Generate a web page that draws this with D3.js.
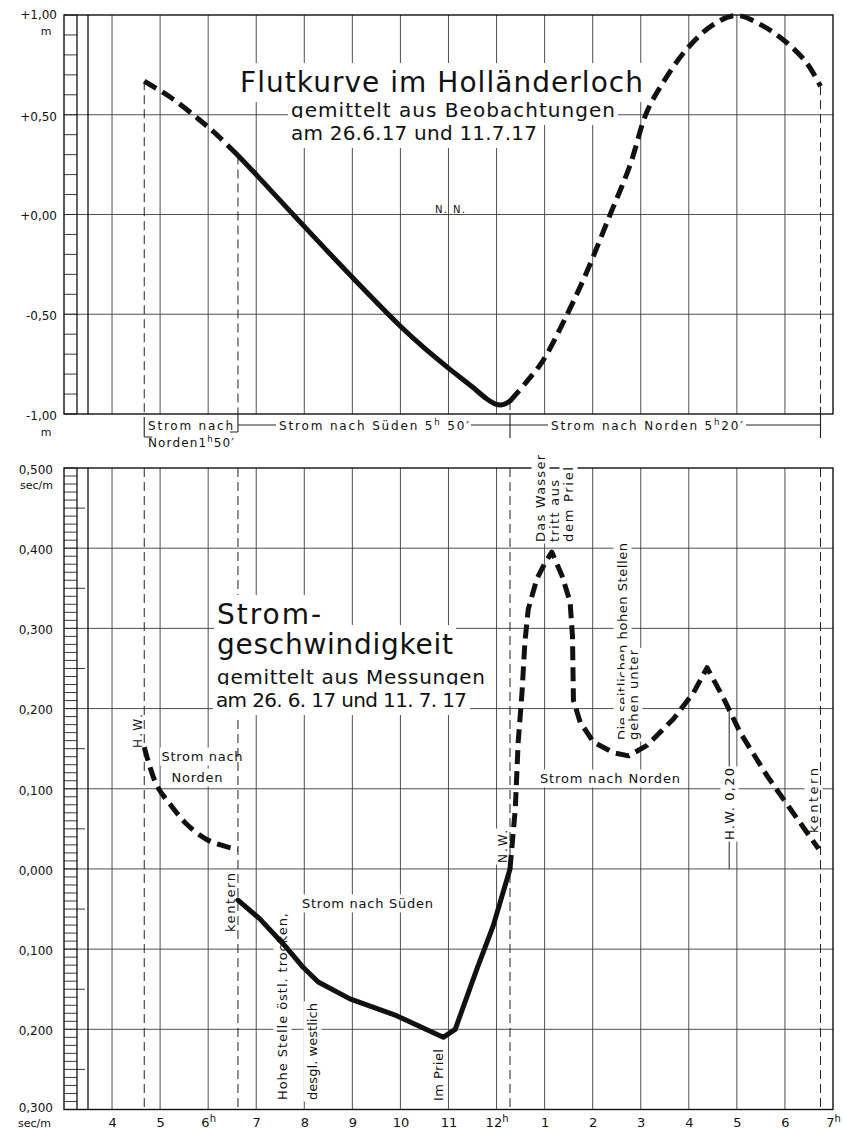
<!DOCTYPE html>
<html><head><meta charset="utf-8">
<script src="https://cdn.jsdelivr.net/npm/d3@7"></script>
<style>
body{margin:0;background:#fff}
svg{display:block}
text{font-family:"DejaVu Sans",sans-serif;fill:#111}
</style>
</head><body>
<svg id="c" width="843" height="1130"></svg>
<script>
// ---------------- data ----------------
const hourTicks = [4,5,6,7,8,9,10,11,12,13,14,15,16,17,18,19];
const hourTickLabels = ["4","5","6h","7","8","9","10","11","12h","1","2","3","4","5","6","7h"];
const levelTicks = [1, 0.5, 0, -0.5, -1];
const levelTickLabels = ["+1,00","+0,50","+0,00","-0,50","-1,00"];
const speedTicks = [0.5,0.4,0.3,0.2,0.1,0,-0.1,-0.2,-0.3];
const speedTickLabels = ["0,500","0,400","0,300","0,200","0,100","0,000","0,100","0,200","0,300"];
const eventHours = [4.67, 6.62, 12.28, 18.74];   // H.W., kentern, N.W., kentern

// Flutkurve (m über/unter N.N.)
const tideHeadHours  = [4.67, 5.2, 5.81, 6.2, 6.62];
const tideHeadValues = [0.668, 0.59, 0.476, 0.395, 0.296];
const tideEbbHours   = [6.62, 7, 8, 9, 10, 10.5, 11, 11.5, 11.8, 12.0, 12.15, 12.28];
const tideEbbValues  = [0.296, 0.2, -0.06, -0.315, -0.56, -0.67, -0.77, -0.865, -0.925, -0.952, -0.952, -0.935];
const tideFloodHours  = [12.28, 12.62, 12.96, 13.45, 13.87, 14.35, 14.77, 15.12, 15.46, 15.95, 16.51, 17.0, 17.55, 18.04, 18.45, 18.74];
const tideFloodValues = [-0.935, -0.84, -0.735, -0.51, -0.292, -0.008, 0.242, 0.51, 0.66, 0.827, 0.952, 0.997, 0.944, 0.861, 0.76, 0.643];

// Stromgeschwindigkeit (+ nach Norden, - nach Süden)
const northAHours  = [4.67, 4.78, 4.95, 5.23, 5.55, 5.96, 6.31, 6.62];
const northAValues = [0.152, 0.129, 0.102, 0.079, 0.056, 0.037, 0.029, 0.024];
const southHours  = [6.62, 7.07, 7.63, 7.98, 8.29, 8.95, 9.92, 10.89, 11.14, 11.59, 11.93, 12.28];
const southValues = [-0.039, -0.062, -0.098, -0.123, -0.141, -0.162, -0.183, -0.21, -0.2, -0.125, -0.071, 0.0];
const northBHours  = [12.28, 12.39, 12.45, 12.53, 12.59, 12.66, 12.84, 13.01, 13.15, 13.36, 13.53, 13.58, 13.6, 13.74, 14.02, 14.43, 14.75, 15.13, 15.68, 16.1, 16.38, 16.73, 17.07, 17.63, 18.11, 18.7];
const northBValues = [0.0, 0.075, 0.158, 0.22, 0.283, 0.324, 0.362, 0.382, 0.395, 0.366, 0.333, 0.29, 0.21, 0.183, 0.158, 0.145, 0.141, 0.154, 0.187, 0.22, 0.251, 0.212, 0.17, 0.116, 0.075, 0.025];
const hw2Hour = 16.84, hw2Value = 0.197;

// ---------------- setup ----------------
const svg = d3.select('#c');
const x = d3.scaleLinear().domain([3.5, 19]).range([88, 833]);
const yTop = d3.scaleLinear().domain([-1, 1]).range([414, 15]);
const yBot = d3.scaleLinear().domain([-0.3, 0.5]).range([1109.5, 468]);
const frameL = 64, frameM = 77;

const gGrid = svg.append('g');
const gNotes = svg.append('g');
const gDash = svg.append('g');
const gTitles = svg.append('g');
const gCurves = svg.append('g');
const gAxes = svg.append('g');

const GRID = '#3c3c3c';

function line(g, x1, y1, x2, y2, w, col, dash) {
  const l = g.append('line').attr('x1', x1).attr('y1', y1).attr('x2', x2).attr('y2', y2)
    .attr('stroke', col || GRID).attr('stroke-width', w || 1);
  if (dash) l.attr('stroke-dasharray', dash);
  return l;
}

function note(layer, px, py, parts, o) {
  o = Object.assign({size: 12, anchor: 'start', rot: false, bg: true, pad: 1.5, len: null}, o || {});
  const g = layer.append('g').attr('transform', `translate(${px},${py})` + (o.rot ? ' rotate(-90)' : ''));
  const rect = o.bg ? g.append('rect').attr('fill', '#fff') : null;
  const t = g.append('text').attr('font-size', o.size).attr('text-anchor', o.anchor);
  let shift = 0;
  (Array.isArray(parts) ? parts : [[parts, false]]).forEach(([s, sup]) => {
    const want = sup ? -o.size * 0.42 : 0;
    const ts = t.append('tspan').text(s);
    if (want - shift !== 0) ts.attr('dy', want - shift);
    shift = want;
    if (sup) ts.attr('font-size', o.size * 0.72);
  });
  if (o.len) t.attr('textLength', o.len).attr('lengthAdjust', 'spacing');
  if (rect) {
    const b = t.node().getBBox();
    rect.attr('x', b.x - o.pad).attr('y', b.y - o.pad).attr('width', b.width + 2 * o.pad).attr('height', b.height + 2 * o.pad);
  }
  return g;
}

// ---------------- grids & frames ----------------
function panel(y, yTicksMajor, hatchTicks, halfTicks) {
  const [y0, y1] = y.range().slice().sort((a, b) => a - b);
  hourTicks.filter(h => h < 19).forEach(h => line(gGrid, x(h), y0, x(h), y1, 0.9));
  yTicksMajor.forEach(v => line(gGrid, frameL, y(v), x(19), y(v), 0.9));
  hatchTicks.forEach(v => line(gGrid, frameL, y(v), frameM, y(v), 0.9, '#222'));
  halfTicks.forEach(v => line(gGrid, frameM, y(v), frameM + 8, y(v), 0.9, '#222'));
  line(gGrid, frameM, y0, frameM, y1, 1.3, '#111');
  line(gGrid, x(3.5), y0, x(3.5), y1, 1.3, '#111');
  gGrid.append('rect').attr('x', frameL).attr('y', y0).attr('width', x(19) - frameL).attr('height', y1 - y0)
    .attr('fill', 'none').attr('stroke', '#111').attr('stroke-width', 1.4);
}
panel(yTop, [0.5, 0, -0.5], yTop.ticks(20), []);
panel(yBot, [0.4, 0.3, 0.2, 0.1, 0, -0.1, -0.2], yBot.ticks(80), [0.45, 0.35, 0.25, 0.15, 0.05, -0.05, -0.15, -0.25]);

// H.W. 0,20 marker line
line(gGrid, x(hw2Hour), yBot(0), x(hw2Hour), yBot(hw2Value), 1, '#222');

// ---------------- y axes ----------------
const axTop = gAxes.append('g').attr('transform', 'translate(62,0)')
  .call(d3.axisLeft(yTop).tickValues(levelTicks).tickSize(0).tickPadding(5).tickFormat((d, i) => levelTickLabels[i]));
axTop.select('.domain').remove();
axTop.selectAll('text').attr('font-size', 12).attr('font-family', '"DejaVu Sans",sans-serif').attr('fill', '#111')
  .attr('dy', (d, i) => i === 0 ? '0.3em' : '0.45em');
gAxes.append('text').attr('x', 46).attr('y', 35).attr('font-size', 11).attr('text-anchor', 'middle').text('m');
gAxes.append('text').attr('x', 46).attr('y', 436).attr('font-size', 11).attr('text-anchor', 'middle').text('m');

const axBot = gAxes.append('g').attr('transform', 'translate(58,0)')
  .call(d3.axisLeft(yBot).tickValues(speedTicks).tickSize(0).tickPadding(5).tickFormat((d, i) => speedTickLabels[i]));
axBot.select('.domain').remove();
axBot.selectAll('text').attr('font-size', 12).attr('font-family', '"DejaVu Sans",sans-serif').attr('fill', '#111')
  .attr('dy', (d, i) => i === speedTicks.length - 1 ? '0.15em' : '0.45em');
gAxes.append('text').attr('x', 53).attr('y', 489).attr('font-size', 11).attr('text-anchor', 'end').text('sec/m');
gAxes.append('text').attr('x', 51).attr('y', 1127).attr('font-size', 11).attr('text-anchor', 'end').text('sec/m');

// ---------------- x axis ----------------
const axX = gAxes.append('g').attr('transform', `translate(0,${yBot(-0.3)})`)
  .call(d3.axisBottom(x).tickValues(hourTicks).tickSize(0).tickPadding(8).tickFormat(() => ''));
axX.select('.domain').remove();
axX.selectAll('.tick text').each(function (d, i) {
  const lab = hourTickLabels[i];
  const t = d3.select(this).attr('font-size', 13).attr('font-family', '"DejaVu Sans",sans-serif').attr('fill', '#111');
  if (lab.endsWith('h')) {
    t.append('tspan').text(lab.slice(0, -1));
    t.append('tspan').text('h').attr('font-size', 10).attr('dy', '-0.45em');
  } else {
    t.text(lab);
  }
});

// ---------------- annotations ----------------
note(gNotes, 450, 213, 'N. N.', {size: 10, anchor: 'middle', bg: false, len: 30});

// brackets between charts
const bracket = [[417, 437], [414, 432], [414, 438], [407, 438]];
eventHours.forEach((h, i) => line(gNotes, x(h), bracket[i][0], x(h), bracket[i][1], 1.1, '#222'));
line(gNotes, x(eventHours[0]), 437, x(eventHours[0]) + 8, 437, 1, '#222');
line(gNotes, x(eventHours[1]) - 8, 432, x(eventHours[1]), 432, 1, '#222');
line(gNotes, x(eventHours[1]), 425, 276, 425, 1, '#222');
line(gNotes, 471, 425, x(eventHours[2]), 425, 1, '#222');
line(gNotes, x(eventHours[2]), 425, 548, 425, 1, '#222');
line(gNotes, 746, 425, x(eventHours[3]), 425, 1, '#222');
note(gNotes, 148, 430, 'Strom nach', {size: 12, len: 85, bg: false});
note(gNotes, 148, 447, [['Norden1'], ['h', true], ['50\u2032']], {size: 12, len: 86, bg: false});
note(gNotes, 279, 430, [['Strom nach S\u00fcden  5'], ['h', true], [' 50\u2032']], {size: 12, len: 190, bg: false});
note(gNotes, 551, 430, [['Strom nach Norden 5'], ['h', true], ['20\u2032']], {size: 12, len: 192, bg: false});

// bottom chart horizontal notes
note(gNotes, 202, 761, 'Strom nach', {size: 13, anchor: 'middle', len: 81});
note(gNotes, 197, 782, 'Norden', {size: 13, anchor: 'middle', len: 51});
note(gNotes, 302, 908, 'Strom nach S\u00fcden', {size: 13, len: 131});
note(gNotes, 540, 783, 'Strom nach Norden', {size: 13, len: 140});

// bottom chart rotated notes
note(gNotes, 142, 748, 'H.W.', {size: 12, rot: true, len: 34});
note(gNotes, 235, 932, 'kentern', {size: 13, rot: true, len: 59});
note(gNotes, 287, 1100, 'Hohe Stelle \u00f6stl. trocken,', {size: 13, rot: true, len: 187});
note(gNotes, 317, 1100, 'desgl. westlich', {size: 13, rot: true, len: 97});
note(gNotes, 443, 1101, 'Im Priel', {size: 13, rot: true, len: 52});
note(gNotes, 507, 863, 'N.W.', {size: 12, rot: true, len: 33});
note(gNotes, 545, 542, 'Das Wasser', {size: 13, rot: true, len: 87});
note(gNotes, 559, 542, 'tritt aus', {size: 13, rot: true, len: 62});
note(gNotes, 573, 542, 'dem Priel', {size: 13, rot: true, len: 75});
note(gNotes, 627, 740, 'Die seitlichen hohen Stellen', {size: 13, rot: true, len: 197});
note(gNotes, 638, 740, 'gehen unter', {size: 13, rot: true, len: 90});
note(gNotes, 734, 840, 'H.W. 0,20', {size: 13, rot: true, len: 72});
note(gNotes, 818, 833, 'kentern', {size: 13, rot: true, len: 65});

// ---------------- dashed event lines ----------------
const DASHV = '9 5';
line(gDash, x(eventHours[0]), yTop(tideHeadValues[0]), x(eventHours[0]), yTop(-1), 1, '#222', DASHV);
line(gDash, x(eventHours[1]), yTop(tideEbbValues[0]), x(eventHours[1]), yTop(-1), 1, '#222', DASHV);
line(gDash, x(eventHours[2]), yTop(tideFloodValues[0]), x(eventHours[2]), yTop(-1), 1, '#222', DASHV);
line(gDash, x(eventHours[3]), yTop(tideFloodValues[tideFloodValues.length - 1]), x(eventHours[3]), yTop(-1), 1, '#222', DASHV);
eventHours.forEach(h => line(gDash, x(h), yBot(0.5), x(h), yBot(-0.3), 1, '#222', DASHV));

// ---------------- titles ----------------
const tp = {pad: 3};
note(gTitles, 240, 92, 'Flutkurve im Holl\u00e4nderloch', Object.assign({size: 28, len: 403}, tp));
note(gTitles, 291, 117, 'gemittelt aus Beobachtungen', Object.assign({size: 20, len: 324}, tp));
note(gTitles, 291, 140, 'am 26.6.17  und  11.7.17', Object.assign({size: 20, len: 246}, tp));
note(gTitles, 217, 624, 'Strom-', Object.assign({size: 28, len: 104}, tp));
note(gTitles, 217, 654, 'geschwindigkeit', Object.assign({size: 28, len: 236}, tp));
note(gTitles, 217, 684, 'gemittelt aus Messungen', Object.assign({size: 20, len: 268}, tp));
note(gTitles, 216, 707, 'am 26. 6. 17 und 11. 7. 17', Object.assign({size: 20, len: 251}, tp));

// ---------------- curves ----------------
function curve(hours, values, y, dashed, curveType) {
  const gen = d3.line().x((d, i) => x(hours[i])).y((d, i) => y(values[i])).curve(curveType);
  const p = gCurves.append('path').attr('d', gen(hours)).attr('fill', 'none')
    .attr('stroke', '#111').attr('stroke-width', 5).attr('stroke-linejoin', 'round');
  if (dashed) p.attr('stroke-dasharray', '14 7');
  else p.attr('stroke-linecap', 'round');
  return p;
}
curve(tideHeadHours, tideHeadValues, yTop, true, d3.curveCatmullRom);
curve(tideEbbHours, tideEbbValues, yTop, false, d3.curveCatmullRom);
curve(tideFloodHours, tideFloodValues, yTop, true, d3.curveCatmullRom);
curve(northAHours, northAValues, yBot, true, d3.curveCatmullRom);
curve(southHours, southValues, yBot, false, d3.curveLinear);
curve(northBHours, northBValues, yBot, true, d3.curveLinear);
</script>
</body></html>
